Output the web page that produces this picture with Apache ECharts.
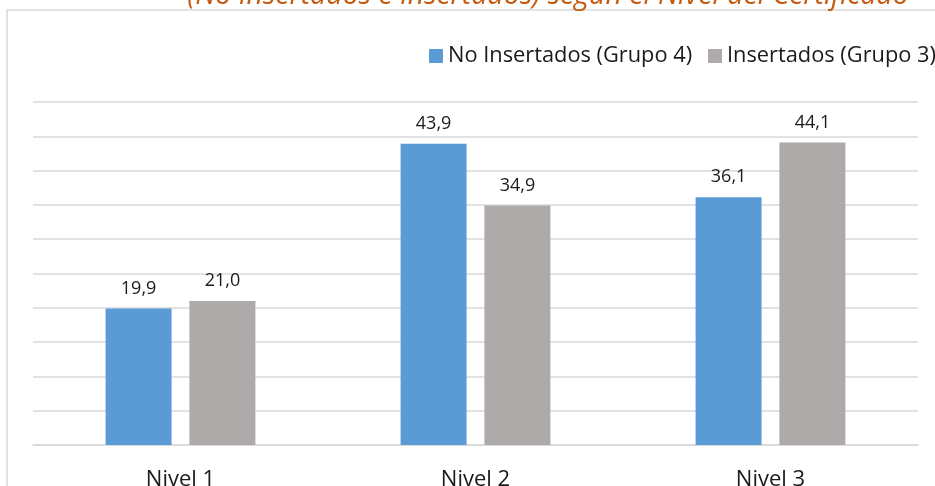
<!DOCTYPE html>
<html><head><meta charset="utf-8">
<script src="https://cdn.jsdelivr.net/npm/echarts@6/dist/echarts.min.js"></script>
<style>html,body{margin:0;padding:0;background:#fff}#c{width:935px;height:486px}</style>
</head><body><div id="c"></div>
<script>
const categories = ["Nivel 1", "Nivel 2", "Nivel 3"];
const seriesNames = ["No Insertados (Grupo 4)", "Insertados (Grupo 3)"];
const noInsertados = [19.9, 43.9, 36.1];
const insertados = [21.0, 34.9, 44.1];
const titleText = "(No Insertados e Insertados) según el Nivel del Certificado";

const chart = echarts.init(document.getElementById('c'), null, {renderer: 'canvas'});
const fmt = p => p.value.toFixed(1).replace('.', ',');
const labelStyle = {show: true, position: 'top', distance: 11, formatter: fmt, fontFamily: 'Open Sans', fontSize: 18, color: '#1a1a1a'};
const legendBase = {top: 40, itemWidth: 14, itemHeight: 14, icon: 'rect',
  textStyle: {fontFamily: 'Open Sans', fontSize: 21.8, color: '#1a1a1a'}};
chart.setOption({
  animation: false,
  title: {text: titleText, left: 543, textAlign: 'center', top: -24,
    textStyle: {fontFamily: 'Open Sans', fontStyle: 'italic', fontWeight: 500, fontSize: 28.5, color: '#C55A11'}},
  graphic: [{type: 'rect', shape: {x: 7, y: 10, width: 1000, height: 1000}, style: {fill: 'none', stroke: '#d9d9d9', lineWidth: 1.5}, z: -1}],
  legend: [
    Object.assign({left: 424, data: [seriesNames[0]]}, legendBase),
    Object.assign({left: 703, data: [seriesNames[1]]}, legendBase)
  ],
  grid: {left: 33, right: 17, top: 102, bottom: 41, containLabel: false, outerBoundsMode: 'none'},
  xAxis: {type: 'category', data: categories,
    axisLine: {lineStyle: {color: '#d9d9d9', width: 1.5}}, axisTick: {show: false},
    axisLabel: {margin: 24, fontFamily: 'Open Sans', fontSize: 22, color: '#1a1a1a'}},
  yAxis: {type: 'value', min: 0, max: 50, interval: 5, axisLabel: {show: false},
    axisLine: {show: false}, axisTick: {show: false},
    splitLine: {lineStyle: {color: '#d9d9d9', width: 1.5}}},
  series: [
    {name: seriesNames[0], type: 'bar', data: noInsertados, barWidth: 66, barGap: '27%', itemStyle: {color: '#5B9BD5'}, label: labelStyle},
    {name: seriesNames[1], type: 'bar', data: insertados, barWidth: 66, itemStyle: {color: '#AEAAAA'}, label: labelStyle}
  ]
});
</script></body></html>
